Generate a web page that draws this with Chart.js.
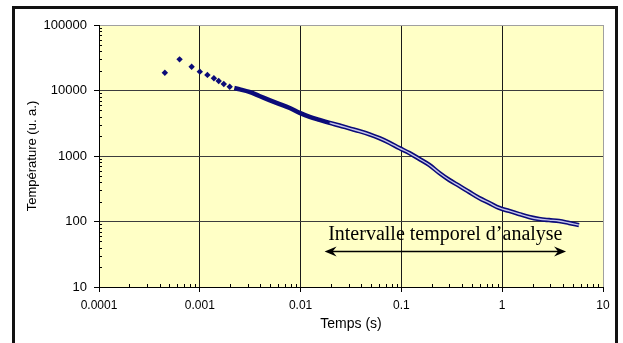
<!DOCTYPE html>
<html>
<head>
<meta charset="utf-8">
<script src="https://cdn.jsdelivr.net/npm/chart.js@4"></script>
<style>
  html, body { margin: 0; padding: 0; background: #fff; overflow: hidden; }
  #wrap { position: relative; width: 623px; height: 343px; }
  #frame { position: absolute; left: 12px; top: 6px; width: 600px; height: 400px;
           border: 3px solid #111; pointer-events: none; }
</style>
</head>
<body>
<div id="wrap">
  <canvas id="tempChart"></canvas>
  <div id="frame"></div>
</div>
<script>
// Premiers points isolés (début de la mesure)
const earlyTime = [0.00045, 0.00063, 0.00083, 0.0010, 0.00119, 0.00138, 0.00154, 0.00173, 0.00198];
const earlyTemp = [18700, 29900, 23100, 19400, 17300, 15400, 14000, 12600, 11400];

// Courbe dense
const curveTime = [0.0022, 0.0025, 0.0031, 0.0039, 0.0049, 0.0062, 0.0078, 0.0098, 0.0123, 0.0154,
                   0.0194, 0.0243, 0.0305, 0.0384, 0.0482, 0.0605, 0.076, 0.0955, 0.12, 0.151,
                   0.189, 0.238, 0.299, 0.375, 0.471, 0.592, 0.743, 0.933, 1.17, 1.47,
                   1.85, 2.32, 2.92, 3.66, 4.60, 5.78];
const curveTemp = [10900, 10400, 9500, 8250, 7150, 6200, 5400, 4550, 3950, 3550,
                   3200, 2920, 2640, 2390, 2140, 1870, 1590, 1320, 1110, 900,
                   730, 550, 430, 350, 282, 228, 192, 161, 145, 130,
                   117, 109, 105, 102, 95, 88];

// Graduations
const xTicks = [0.0001, 0.001, 0.01, 0.1, 1, 10];
const xTickLabels = ['0.0001', '0.001', '0.01', '0.1', '1', '10'];
const yTicks = [10, 100, 1000, 10000, 100000];
const yTickLabels = ['10', '100', '1000', '10000', '100000'];

// Intervalle temporel d'analyse
const intervalStart = 0.0173;
const intervalEnd = 4.3;
const arrowLevel = 35.5;
const labelLevel = 52;
const intervalLabel = 'Intervalle temporel d\u2019analyse';

const navy = '#0b0b78';

function toPoints(xs, ys) {
    return xs.map((x, i) => ({ x: x, y: ys[i] }));
}
const curvePts = toPoints(curveTime, curveTemp);
const firstGap = curveTime.findIndex(t => t >= 0.019);

// fond jaune + graduations secondaires + annotation
const plotDeco = {
    id: 'plotDeco',
    beforeDraw(chart) {
        const a = chart.chartArea, c = chart.ctx;
        c.save();
        c.fillStyle = '#FFFFC6';
        c.fillRect(a.left, a.top, a.right - a.left, a.bottom - a.top);
        c.restore();
    },
    afterDraw(chart) {
        const c = chart.ctx, a = chart.chartArea;
        const xs = chart.scales.x, ys = chart.scales.y;
        c.save();
        c.strokeStyle = '#000';
        c.lineWidth = 1;
        // petites graduations
        for (let i = 0; i < xTicks.length - 1; i++) {
            for (let k = 2; k <= 9; k++) {
                const px = Math.round(xs.getPixelForValue(xTicks[i] * k)) + 0.5;
                c.beginPath(); c.moveTo(px, a.bottom); c.lineTo(px, a.bottom - 3); c.stroke();
            }
        }
        for (let i = 0; i < yTicks.length - 1; i++) {
            for (let k = 2; k <= 9; k++) {
                const py = Math.round(ys.getPixelForValue(yTicks[i] * k)) + 0.5;
                c.beginPath(); c.moveTo(a.left, py); c.lineTo(a.left + 3, py); c.stroke();
            }
        }
        c.restore();
    },
    afterDatasetsDraw(chart) {
        const c = chart.ctx;
        const xs = chart.scales.x, ys = chart.scales.y;
        const x1 = xs.getPixelForValue(intervalStart);
        const x2 = xs.getPixelForValue(intervalEnd);
        const y = Math.round(ys.getPixelForValue(arrowLevel)) + 0.5;
        c.save();
        c.strokeStyle = '#000';
        c.fillStyle = '#000';
        c.lineWidth = 1.3;
        c.beginPath(); c.moveTo(x1 + 6, y); c.lineTo(x2 - 6, y); c.stroke();
        // pointes de flèche
        [[x1, 1], [x2, -1]].forEach(([tip, d]) => {
            c.beginPath();
            c.moveTo(tip, y);
            c.lineTo(tip + d * 12, y - 5);
            c.lineTo(tip + d * 8, y);
            c.lineTo(tip + d * 12, y + 5);
            c.closePath();
            c.fill();
        });
        c.font = '20px "Liberation Serif", "Times New Roman", serif';
        c.textAlign = 'center';
        c.textBaseline = 'alphabetic';
        c.fillText(intervalLabel, (x1 + x2) / 2, ys.getPixelForValue(labelLevel));
        c.restore();
    }
};

function gridColor(max, edge, normal) {
    return ctx => (ctx.tick && ctx.tick.value === max) ? edge : normal;
}

new Chart(document.getElementById('tempChart'), {
    type: 'scatter',
    data: {
        datasets: [
            {
                // reflet clair entre les deux traces de mesure (dessiné au-dessus)
                data: curvePts.slice(firstGap),
                showLine: true,
                borderColor: '#c4c4ec',
                borderWidth: 1.4,
                pointRadius: 0,
                cubicInterpolationMode: 'monotone'
            },
            {
                data: curvePts,
                showLine: true,
                borderColor: navy,
                borderWidth: 4.5,
                pointRadius: 0,
                cubicInterpolationMode: 'monotone'
            },
            {
                data: toPoints(earlyTime, earlyTemp),
                pointStyle: 'rectRot',
                pointRadius: 3.2,
                backgroundColor: navy,
                borderColor: navy,
                borderWidth: 0
            }
        ]
    },
    options: {
        responsive: true,
        maintainAspectRatio: false,
        animation: false,
        layout: { padding: { left: 0, top: 25, right: 20, bottom: 0 } },
        plugins: { legend: { display: false }, tooltip: { enabled: false } },
        scales: {
            x: {
                type: 'logarithmic',
                min: 0.0001,
                max: 10,
                afterBuildTicks: s => { s.ticks = xTicks.map(v => ({ value: v })); },
                afterFit: s => { s.height = 56; },
                border: { color: '#000', width: 1 },
                grid: {
                    color: gridColor(10, '#a0a0a0', '#1a1a1a'),
                    tickColor: '#000',
                    tickLength: 5
                },
                ticks: {
                    autoSkip: false,
                    maxRotation: 0,
                    padding: 6,
                    color: '#000',
                    font: { family: 'Liberation Sans, Arial', size: 12 },
                    callback: (v, i) => xTickLabels[i]
                },
                title: {
                    display: true,
                    text: 'Temps (s)',
                    color: '#000',
                    font: { family: 'Liberation Sans, Arial', size: 14 },
                    padding: { top: 0, bottom: 10 }
                }
            },
            y: {
                type: 'logarithmic',
                min: 10,
                max: 100000,
                afterBuildTicks: s => { s.ticks = yTicks.map(v => ({ value: v })); },
                afterFit: s => { s.width = 99; },
                border: { color: '#000', width: 1 },
                grid: {
                    color: gridColor(100000, '#a0a0a0', '#3c3c3c'),
                    tickColor: '#000',
                    tickLength: 5
                },
                ticks: {
                    autoSkip: false,
                    padding: 7,
                    color: '#000',
                    font: { family: 'Liberation Sans, Arial', size: 13 },
                    callback: (v, i) => yTickLabels[i]
                },
                title: {
                    display: true,
                    text: 'Température (u. a.)',
                    color: '#000',
                    font: { family: 'Liberation Sans, Arial', size: 13 },
                    padding: { top: 25, bottom: 0 }
                }
            }
        }
    },
    plugins: [plotDeco]
});
</script>
</body>
</html>
